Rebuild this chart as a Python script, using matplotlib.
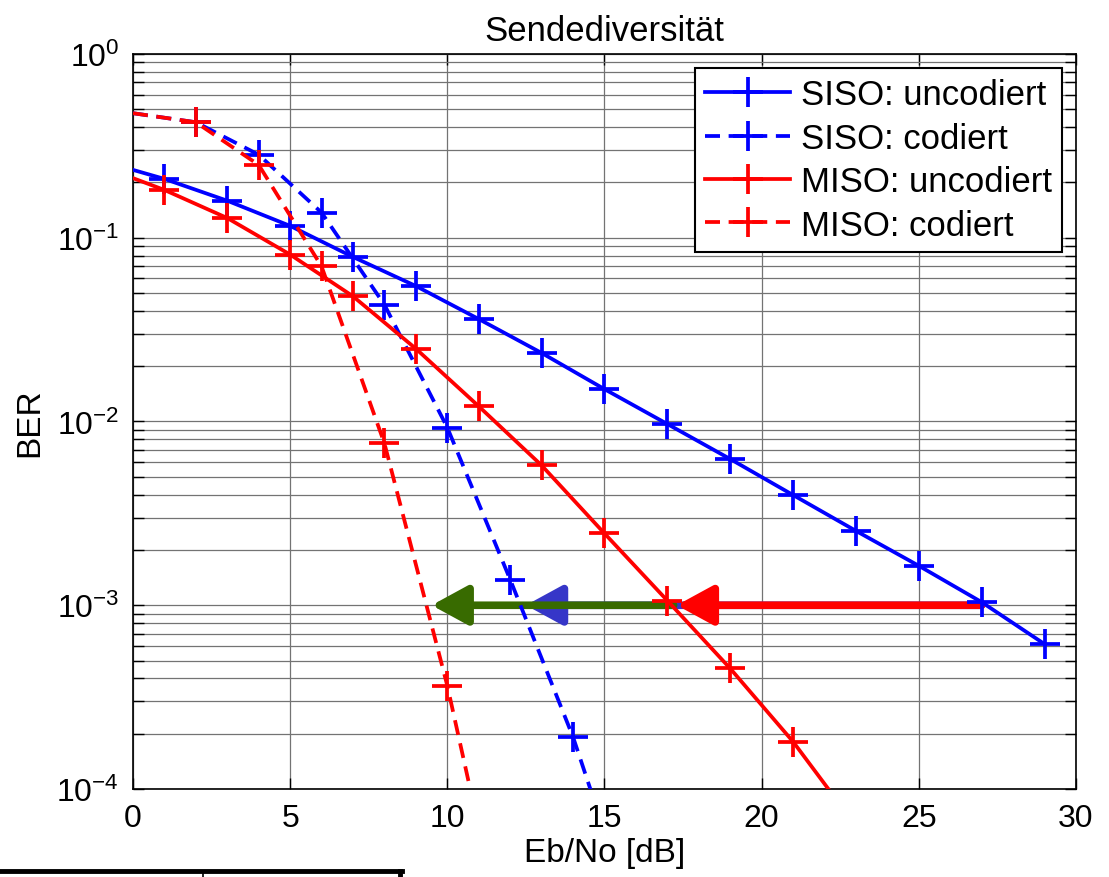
import numpy as np
import matplotlib.pyplot as plt
from matplotlib.lines import Line2D

plt.rcParams['font.family'] = ['Liberation Sans', 'DejaVu Sans']
plt.rcParams['mathtext.fontset'] = 'custom'
plt.rcParams['mathtext.rm'] = 'Liberation Sans'

#Simulated BER curves, Eb/No in dB
snrSisoUnc = [0, 1, 3, 5, 7, 9, 11, 13, 15, 17, 19, 21, 23, 25, 27, 29]
berSisoUnc = [0.234, 0.209, 0.159, 0.116, 0.0786, 0.0546, 0.0361, 0.0236, 0.0150,
              0.00969, 0.00625, 0.00398, 0.00254, 0.00164, 0.00104, 0.000615]

snrSisoCod = [0, 2, 4, 6, 8, 10, 12, 14, 16]
berSisoCod = [0.476, 0.425, 0.283, 0.137, 0.0432, 0.00927, 0.00138, 0.000192, 1.8e-5]

snrMisoUnc = [0, 1, 3, 5, 7, 9, 11, 13, 15, 17, 19, 21, 23]
berMisoUnc = [0.211, 0.182, 0.128, 0.081, 0.048, 0.0249, 0.0121, 0.00577, 0.00246,
              0.00106, 0.000453, 0.000181, 6.3e-5]

snrMisoCod = [0, 2, 4, 6, 8, 10, 12]
berMisoCod = [0.476, 0.425, 0.249, 0.0698, 0.0076, 0.000365, 1.05e-5]

#Gains at BER = 1e-3: (from, to, colour)
berTarget = 1e-3
gainArrows = [(27.0, 12.5, '#3636c8'),
              (17.2, 9.5, '#386b00'),
              (27.0, 17.3, '#ff0000')]

fig = plt.figure(figsize=(11.09, 8.78), dpi=100)
ax = fig.add_axes([0.1199, 0.1002, 0.8503, 0.8372])

lw = 2.7
ms = 21
mew = 2.7
dash = (4, 2.3)

ax.plot(snrSisoUnc, berSisoUnc, '-', color='#0000ff', lw=lw, marker='+', ms=ms, mew=mew,
        markevery=slice(1, None), label='SISO: uncodiert', zorder=3)
ax.plot(snrSisoCod, berSisoCod, '--', color='#0000ff', lw=lw, marker='+', ms=ms, mew=mew,
        markevery=slice(1, None), dashes=dash, label='SISO: codiert', zorder=3)
ax.plot(snrMisoUnc, berMisoUnc, '-', color='#ff0000', lw=lw, marker='+', ms=ms, mew=mew,
        markevery=slice(1, None), label='MISO: uncodiert', zorder=3)
ax.plot(snrMisoCod, berMisoCod, '--', color='#ff0000', lw=lw, marker='+', ms=ms, mew=mew,
        markevery=slice(1, None), dashes=dash, label='MISO: codiert', zorder=3)

#Arrows for the coding / diversity gain, drawn under the curves
for start, end, col in gainArrows:
    ax.annotate('', xy=(end, berTarget), xytext=(start, berTarget), zorder=2,
                arrowprops=dict(arrowstyle='-|>,head_length=22,head_width=12',
                                mutation_scale=1, lw=5.5, color=col,
                                shrinkA=0, shrinkB=0))

ax.set_yscale('log')
ax.set_xlim(0, 30)
ax.set_ylim(1e-4, 1)
ax.set_xticks([0, 5, 10, 15, 20, 25, 30])
ax.set_axisbelow(True)
ax.grid(True, which='major', color='0.45', lw=0.9)
ax.grid(True, which='minor', axis='y', color='0.45', lw=0.9)
ax.tick_params(which='both', direction='in', top=True, right=True, labelsize=23,
               width=1.0, pad=10)
ax.tick_params(which='major', length=8)
ax.tick_params(which='minor', length=8)
for s in ax.spines.values():
    s.set_linewidth(1.2)

ax.set_title('Sendediversität', fontsize=25, pad=10)
ax.set_xlabel('Eb/No [dB]', fontsize=24, labelpad=3)
ax.set_ylabel('BER', fontsize=24, labelpad=8)

leg = ax.legend(loc='upper right', fontsize=25, fancybox=False, framealpha=1,
                edgecolor='black', handlelength=2.45, labelspacing=0.3,
                borderaxespad=0.4, handletextpad=0.3, borderpad=0.3)
leg.get_frame().set_linewidth(1.5)

#Edge of the table below the figure
fig.add_artist(Line2D([0, 402 / 1109], [1 - 872 / 878] * 2, color='black', lw=3.5))
fig.add_artist(Line2D([203 / 1109] * 2, [1 - 872 / 878, 0], color='black', lw=1.2))
fig.add_artist(Line2D([400 / 1109] * 2, [1 - 872 / 878, 0], color='black', lw=3.5))

plt.savefig('out.png', dpi=100)
